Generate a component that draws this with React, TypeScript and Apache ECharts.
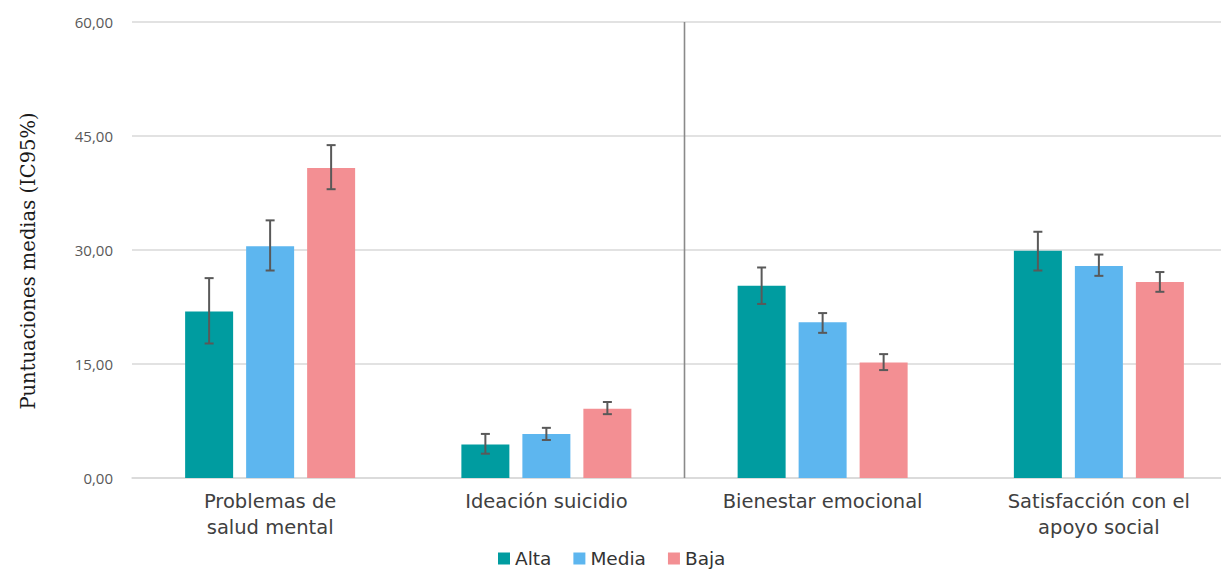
import React, { useEffect, useRef } from "react";
import * as echarts from "echarts";

const categories = [
  "Problemas de\nsalud mental",
  "Ideación suicidio",
  "Bienestar emocional",
  "Satisfacción con el\napoyo social",
];
const seriesNames = ["Alta", "Media", "Baja"];
const alta = [21.9, 4.4, 25.3, 29.9];
const media = [30.5, 5.8, 20.5, 27.9];
const baja = [40.8, 9.1, 15.2, 25.8];
const altaLow = [17.7, 3.2, 22.9, 27.3];
const altaHigh = [26.3, 5.8, 27.7, 32.4];
const mediaLow = [27.3, 5.0, 19.1, 26.6];
const mediaHigh = [33.9, 6.6, 21.7, 29.4];
const bajaLow = [38.0, 8.4, 14.2, 24.5];
const bajaHigh = [43.8, 10.0, 16.3, 27.1];
const yMin = 0;
const yMax = 60;
const yInterval = 15;
const yTitle = "Puntuaciones medias (IC95%)";
const separatorAfter = 1; // separator between category 1 and 2

const colors = ["#009ca0", "#5db6ef", "#f38f93"];
const BAR_W = 48;
const BAR_GAP = 13;

export default function App() {
  const ref = useRef<HTMLDivElement>(null);
  useEffect(() => {
    if (!ref.current) return;
    const chart = echarts.init(ref.current, undefined, { renderer: "svg" });
    const values = [alta, media, baja];
    const lows = [altaLow, mediaLow, bajaLow];
    const highs = [altaHigh, mediaHigh, bajaHigh];

    const barSeries = seriesNames.map((name, i) => ({
      name,
      type: "bar",
      data: values[i],
      barWidth: BAR_W,
      barGap: `${(BAR_GAP / BAR_W) * 100}%`,
      itemStyle: { color: colors[i] },
      z: 2,
    }));

    const errSeries = seriesNames.map((name, i) => ({
      name: name + "-err",
      type: "custom",
      z: 5,
      data: categories.map((_, k) => [k, lows[i][k], highs[i][k]]),
      encode: { x: 0, y: [1, 2] },
      renderItem: (params: any, api: any) => {
        const k = api.value(0);
        const pLo = api.coord([k, api.value(1)]);
        const pHi = api.coord([k, api.value(2)]);
        const cx = pLo[0] + (i - 1) * (BAR_W + BAR_GAP);
        const st = { stroke: "#595959", lineWidth: 2 };
        const cap = 4.5;
        return {
          type: "group",
          children: [
            { type: "line", shape: { x1: cx, y1: pHi[1], x2: cx, y2: pLo[1] }, style: st },
            { type: "line", shape: { x1: cx - cap, y1: pHi[1], x2: cx + cap, y2: pHi[1] }, style: st },
            { type: "line", shape: { x1: cx - cap, y1: pLo[1], x2: cx + cap, y2: pLo[1] }, style: st },
          ],
        };
      },
    }));

    const sepSeries = {
      name: "separator",
      type: "custom",
      z: 3,
      data: [[separatorAfter, yMin, yMax]],
      encode: { x: 0, y: [1, 2] },
      renderItem: (params: any, api: any) => {
        const k = api.value(0);
        const p0 = api.coord([k, api.value(1)]);
        const p1 = api.coord([k, api.value(2)]);
        const bw = api.size([1, 0])[0];
        const x = p0[0] + bw / 2;
        return {
          type: "line",
          shape: { x1: x, y1: p1[1], x2: x, y2: p0[1] },
          style: { stroke: "#8a8a8a", lineWidth: 1.6 },
        };
      },
    };

    chart.setOption({
      animation: false,
      backgroundColor: "#ffffff",
      grid: { left: 132, right: 0, top: 22, bottom: 92, containLabel: false },
      legend: {
        data: seriesNames,
        top: 549,
        left: 498,
        padding: 0,
        icon: "rect",
        itemWidth: 12,
        itemHeight: 12,
        itemGap: 22,
        textStyle: { fontFamily: "DejaVu Sans", fontSize: 18.5, color: "#333333" },
      },
      xAxis: {
        type: "category",
        data: categories,
        axisLine: { show: true, lineStyle: { color: "#d9d9d9", width: 1.5 } },
        axisTick: { show: false },
        axisLabel: {
          interval: 0,
          margin: 10,
          fontFamily: "DejaVu Sans",
          fontSize: 19.5,
          lineHeight: 26,
          color: "#404040",
        },
      },
      yAxis: {
        type: "value",
        min: yMin,
        max: yMax,
        interval: yInterval,
        axisLine: { show: false },
        axisTick: { show: false },
        splitLine: { lineStyle: { color: "#d9d9d9", width: 1.5 } },
        axisLabel: {
          margin: 19,
          fontFamily: "Open Sans",
          fontSize: 15,
          color: "#595959",
          formatter: (v: number) => v.toFixed(2).replace(".", ","),
        },
      },
      graphic: [
        {
          type: "text",
          x: 28,
          y: 261,
          rotation: Math.PI / 2,
          style: {
            text: yTitle,
            fontFamily: "DejaVu Serif",
            fontSize: 19.5,
            fill: "#1a1a1a",
            textAlign: "center",
            textVerticalAlign: "middle",
          },
        },
      ],
      series: [...barSeries, ...errSeries, sepSeries],
    });
    return () => chart.dispose();
  }, []);
  return (
    <div style={{ position: "absolute", left: 0, top: 0, width: 1221, height: 570, overflow: "hidden" }}>
      <div ref={ref} style={{ width: 1237, height: 570 }} />
    </div>
  );
}
